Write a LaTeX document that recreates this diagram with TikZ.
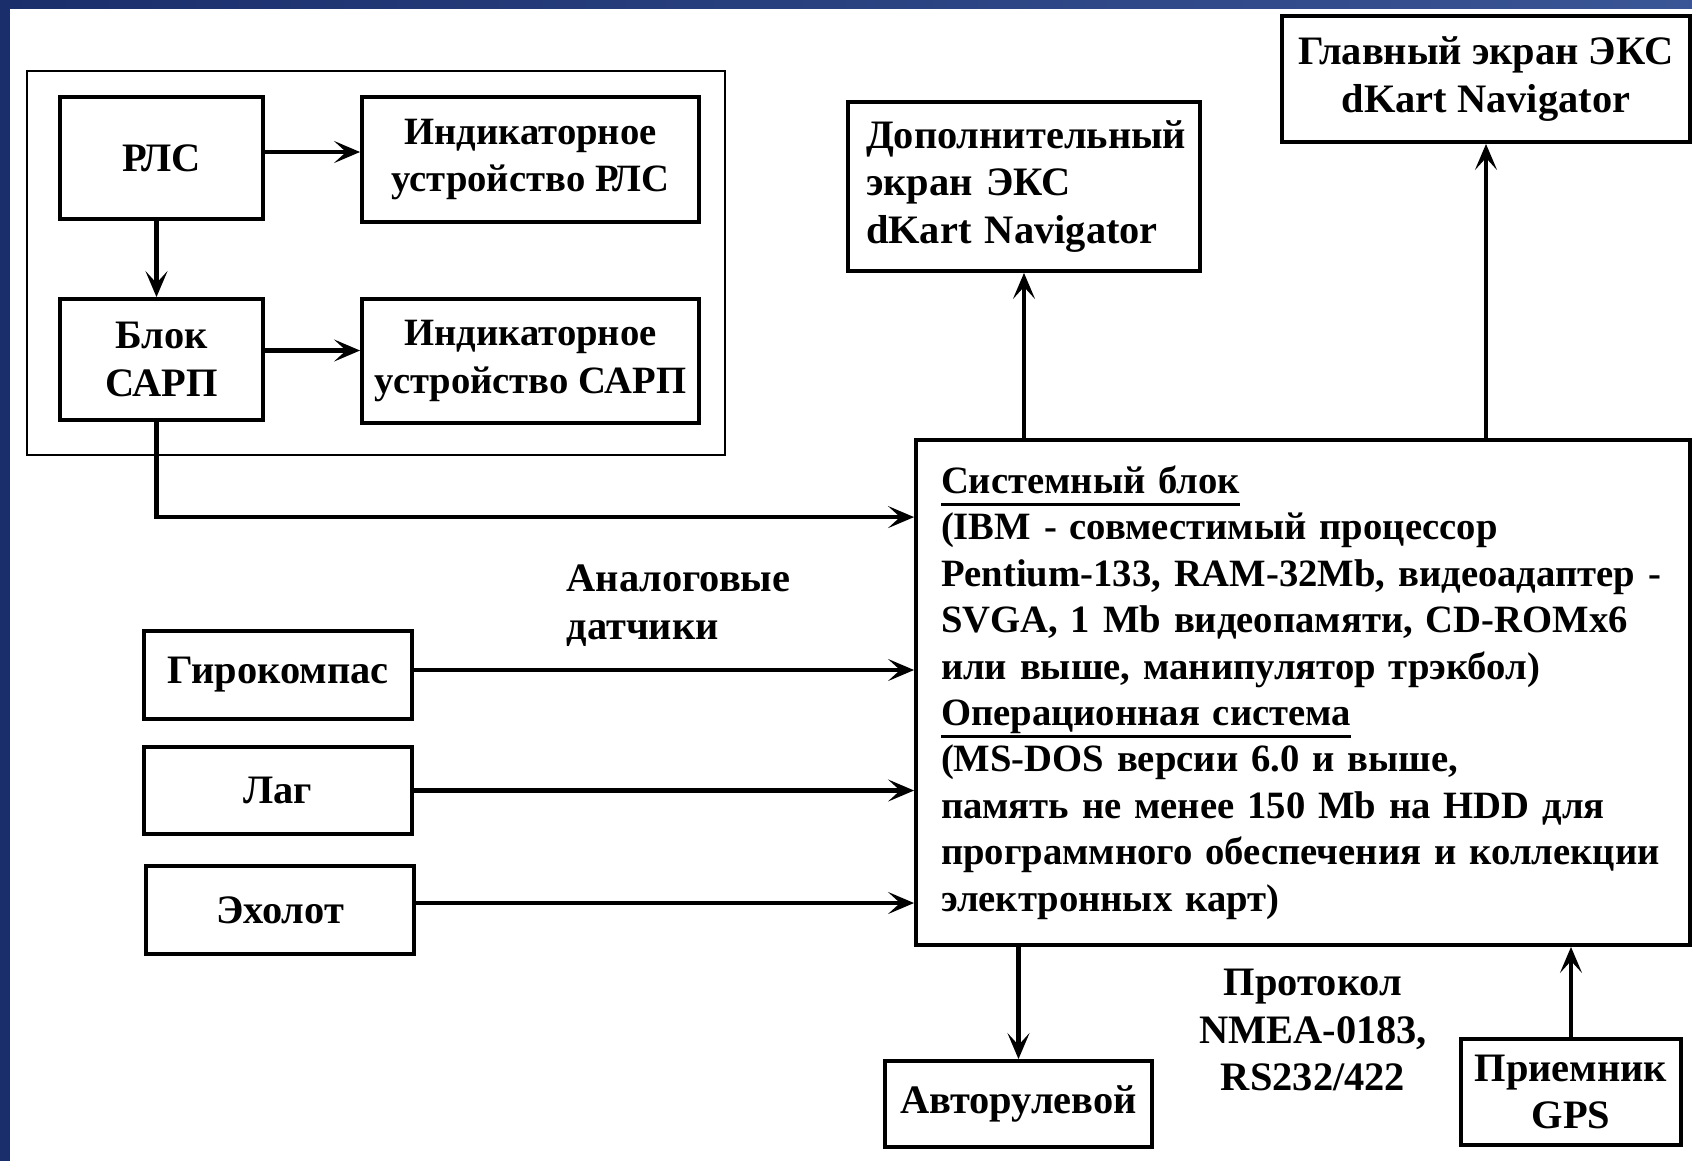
\documentclass[tikz,border=0pt]{standalone}
\usepackage{fontspec}
\setmainfont{Liberation Serif}
\usetikzlibrary{calc,arrows.meta}
\definecolor{slidedark}{HTML}{1A2E6B}
\definecolor{slidelight}{HTML}{3A5595}
\newcommand{\ulhead}[1]{\leavevmode\setbox0\hbox{#1}\rlap{\rule[-3.6pt]{\wd0}{1pt}}\box0}
\tikzset{
	% ------- every something
	every node/.style={
		font=\fontsize{11.5}{13.6}\selectfont\bfseries,
	},
	% ------- custom
	block/.style={
		draw, line width=1.1pt, align=center, inner sep=0pt,
	},
	group/.style={
		line width=0.5pt,
	},
	link/.style={
		line width=1.2pt,
		-{Stealth[length=2.6mm, width=2.2mm, inset=1.2mm]},
	},
}

\begin{document}
\begin{tikzpicture}[x=0.1mm, y=-0.1mm]

% slide background %{{{1

	\useasboundingbox (0,0) rectangle (1692,1161);
	\fill[white] (0,0) rectangle (1692,1161);
	\shade[left color=slidedark, right color=slidelight] (0,0) rectangle (1692,8);
	\fill[slidedark] (0,0) rectangle (10,1161);

% radar group %{{{1

	\draw[group] (27,71) rectangle (725,455);

	\node[block, minimum width=20.3mm, minimum height=12.2mm] (rls) at (161.5,158) {РЛС};
	\node[block, minimum width=33.7mm, minimum height=12.5mm, font=\fontsize{11}{13.4}\selectfont\bfseries]
		(indrls) at (530.5,159.5) {Индикаторное\\устройство РЛС};
	\node[block, minimum width=20.3mm, minimum height=12.1mm] (sarp) at (161.5,359.5)
		{Блок\\САРП};
	\node[block, minimum width=33.7mm, minimum height=12.4mm, font=\fontsize{11}{13.4}\selectfont\bfseries]
		(indsarp) at (530.5,361) {Индикаторное\\устройство САРП};

% screens %{{{1

	\node[block, align=left, text width=31.6mm, minimum width=35.2mm, minimum height=16.9mm]
		(dopscreen) at (1024,186.5)
		{Дополнительный\\экран ЭКС\\dKart Navigator};
	\node[block, minimum width=40.8mm, minimum height=12.6mm] (mainscreen) at (1486,79)
		{Главный экран ЭКС\\dKart Navigator};

% system unit %{{{1

	\node[block, align=left, text width=72.4mm, minimum width=77.4mm, minimum height=50.5mm,
		font=\fontsize{11}{13.2}\selectfont\bfseries]
		(sysunit) at (1303,692.5)
		{\ulhead{Системный блок}\\
		(IBM - совместимый процессор\\
		Pentium-133, RAM-32Mb, видеоадаптер -\\
		SVGA, 1 Mb видеопамяти, CD-ROMx6\\
		или выше, манипулятор трэкбол)\\
		\ulhead{Операционная система}\\
		(MS-DOS версии 6.0 и выше,\\
		память не менее 150 Mb на HDD для\\
		программного обеспечения и коллекции\\
		электронных карт)};

% sensors %{{{1

	\node[block, minimum width=26.8mm, minimum height=8.8mm] (gyro) at (278,675) {Гирокомпас};
	\node[block, minimum width=26.8mm, minimum height=8.7mm] (lag) at (278,790.5) {Лаг};
	\node[block, minimum width=26.8mm, minimum height=8.8mm] (echo) at (280,910) {Эхолот};

	\node[block, minimum width=26.7mm, minimum height=8.6mm] (autopilot) at (1018.5,1104) {Авторулевой};
	\node[block, minimum width=22.0mm, minimum height=10.6mm] (gps) at (1571,1092) {Приемник\\GPS};

% labels %{{{1

	\node[align=left, anchor=west, inner sep=0pt] (analog) at (566,606) {Аналоговые\\датчики};
	\node[align=center, inner sep=0pt] (protocol) at (1313,1030) {Протокол\\NMEA-0183,\\RS232/422};

% links %{{{1

	\draw[link] ($(rls.east)+(0,-6)$) -- ($(rls.east -| indrls.west)+(0,-6)$);
	\draw[link] ($(rls.south)+(-5,0)$) -- ($(sarp.north)+(-5,0)$);
	\draw[link] ($(sarp.east)+(0,-9)$) -- ($(sarp.east -| indsarp.west)+(0,-9)$);
	\draw[link] ($(sarp.south)+(-5,0)$) |- ($(sysunit.north west)+(0,79)$);

	\draw[link] ($(gyro.east)+(0,-5)$) -- ($(gyro.east -| sysunit.west)+(0,-5)$);
	\draw[link] (lag.east) -- (lag.east -| sysunit.west);
	\draw[link] ($(echo.east)+(0,-7)$) -- ($(echo.east -| sysunit.west)+(0,-7)$);

	\draw[link] (dopscreen.south |- sysunit.north) -- (dopscreen.south);
	\draw[link] (mainscreen.south |- sysunit.north) -- (mainscreen.south);
	\draw[link] (sysunit.south -| autopilot.north) -- (autopilot.north);
	\draw[link] (gps.north) -- (gps.north |- sysunit.south);

% closing %{{{1

\end{tikzpicture}
\end{document}
